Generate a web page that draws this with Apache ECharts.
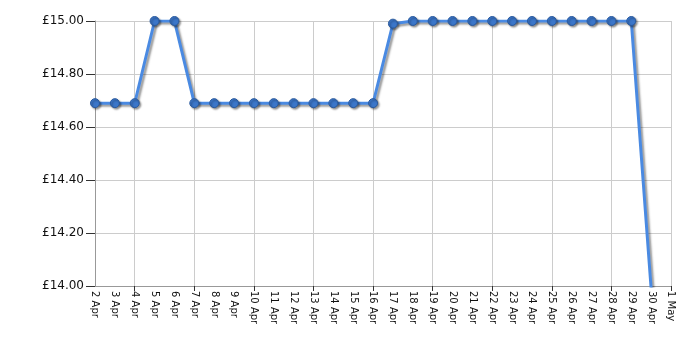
<!DOCTYPE html>
<html><head><meta charset="utf-8">
<script src="https://cdn.jsdelivr.net/npm/echarts@6/dist/echarts.min.js"></script>
<style>html,body{margin:0;padding:0;background:#fff}#c{width:700px;height:350px}</style>
</head><body><div id="c"></div>
<script>
const categories = ['2 Apr','3 Apr','4 Apr','5 Apr','6 Apr','7 Apr','8 Apr','9 Apr','10 Apr','11 Apr','12 Apr','13 Apr','14 Apr','15 Apr','16 Apr','17 Apr','18 Apr','19 Apr','20 Apr','21 Apr','22 Apr','23 Apr','24 Apr','25 Apr','26 Apr','27 Apr','28 Apr','29 Apr','30 Apr','1 May'];
const prices = [14.69,14.69,14.69,15.00,15.00,14.69,14.69,14.69,14.69,14.69,14.69,14.69,14.69,14.69,14.69,14.99,15.00,15.00,15.00,15.00,15.00,15.00,15.00,15.00,15.00,15.00,15.00,15.00,13.99,null];
const yMin = 14, yMax = 15, yStep = 0.2;

const chart = echarts.init(document.getElementById('c'), null, {renderer:'canvas'});
const tickFn = (idx) => idx >= 2 && (idx - 2) % 3 === 0;
chart.setOption({
  animation: false,
  grid: {left: 95, right: 29, top: 21, bottom: 64},
  xAxis: {
    type: 'category', data: categories, boundaryGap: false,
    axisLine: {lineStyle: {color: '#999', width: 1}},
    axisTick: {interval: tickFn, length: 5, lineStyle: {color: '#333'}},
    splitLine: {show: true, interval: tickFn, lineStyle: {color: '#ccc'}},
    axisLabel: {interval: 0, rotate: -90, fontFamily: 'DejaVu Sans', fontSize: 10, color: '#111', margin: 5}
  },
  yAxis: {
    type: 'value', min: yMin, max: yMax, interval: yStep,
    axisLine: {show: true, lineStyle: {color: '#999'}},
    axisTick: {show: true, length: 9, lineStyle: {color: '#333'}},
    splitLine: {lineStyle: {color: '#ccc'}},
    axisLabel: {fontFamily: 'DejaVu Sans', fontSize: 12, color: '#111', margin: 11,
      formatter: v => '£' + v.toFixed(2)}
  },
  series: [{
    type: 'line', data: prices, clip: true,
    symbol: 'circle', symbolSize: 9, showSymbol: true,
    lineStyle: {color: '#4a8ae2', width: 3, shadowColor: 'rgba(0,0,0,0.4)', shadowBlur: 2, shadowOffsetX: 2, shadowOffsetY: 2},
    itemStyle: {color: '#3b76c9', borderColor: '#2a5a9e', borderWidth: 1, shadowColor: 'rgba(0,0,0,0.4)', shadowBlur: 2, shadowOffsetX: 1.5, shadowOffsetY: 1.5}
  }]
});
</script></body></html>
